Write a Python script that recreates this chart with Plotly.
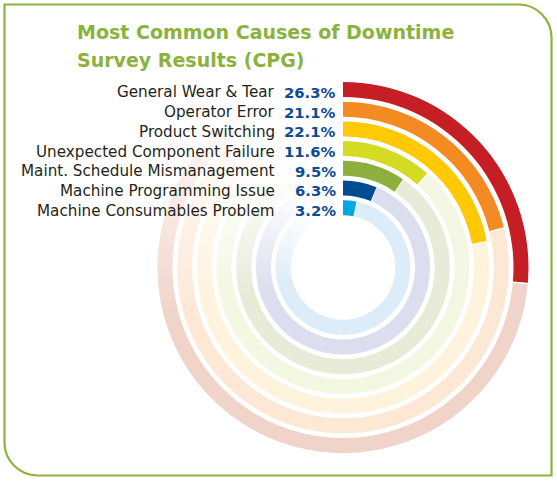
import plotly.graph_objects as go

# ---------------- data ----------------
categories = ["General Wear & Tear", "Operator Error", "Product Switching",
              "Unexpected Component Failure", "Maint. Schedule Mismanagement",
              "Machine Programming Issue", "Machine Consumables Problem"]
values = [26.3, 21.1, 22.1, 11.6, 9.5, 6.3, 3.2]
value_labels = ["26.3%", "21.1%", "22.1%", "11.6%", "9.5%", "6.3%", "3.2%"]

bar_colors = ["#C51E24", "#F48A22", "#FFCA05", "#D3DB23", "#8DAF3E", "#004C93", "#00A9E2"]
track_colors = ["#F1D4C9", "#FDE8D6", "#FEF3DC", "#F4F7E1", "#E7EBD8", "#DBDEEE", "#DCECF8"]

title_lines = ["Most Common Causes of Downtime", "Survey Results (CPG)"]

# ---------------- geometry ----------------
W, H = 557, 482
CX, CY = 343.0, 267.5
R_MAX = 186.0
R_OUT = 185.5
STEP = 19.7
THICK = 15.0


def hex_to_rgb(h):
    h = h.lstrip("#")
    return tuple(int(h[i:i + 2], 16) for i in (0, 2, 4))


def blend_white(h, f):
    r, g, b = hex_to_rgb(h)
    return "rgb(%d,%d,%d)" % (round(255 + f * (r - 255)), round(255 + f * (g - 255)), round(255 + f * (b - 255)))


def fade(theta):
    a0, a1 = 255.0, 340.0
    if theta <= a0:
        return 1.0
    if theta >= a1:
        return 0.0
    t = (theta - a0) / (a1 - a0)
    return (1 - t) ** 1.3


fig = go.Figure()

# background tracks (faded toward upper left)
tr_theta, tr_width, tr_base, tr_r, tr_col = [], [], [], [], []
seg = 2.0
for i, v in enumerate(values):
    outer = R_OUT - STEP * i
    inner = outer - THICK
    a = v * 3.6 + 0.7
    while a < 345:
        b = min(a + seg, 345)
        mid = (a + b) / 2
        tr_theta.append(mid)
        tr_width.append(b - a + 0.4)
        tr_base.append(inner)
        tr_r.append(THICK)
        tr_col.append(blend_white(track_colors[i], fade(mid)))
        a = b

fig.add_trace(go.Barpolar(
    theta=tr_theta, width=tr_width, base=tr_base, r=tr_r,
    marker=dict(color=tr_col, line=dict(width=0)),
    hoverinfo="skip", showlegend=False,
))

# value arcs
bar_theta = [v * 3.6 / 2 for v in values]
bar_width = [v * 3.6 for v in values]
bar_base = [R_OUT - STEP * i - THICK for i in range(len(values))]
bar_r = [THICK] * len(values)
fig.add_trace(go.Barpolar(
    theta=bar_theta, width=bar_width, base=bar_base, r=bar_r,
    marker=dict(color=bar_colors, line=dict(width=0)),
    text=categories, hovertemplate="%{text}<extra></extra>", showlegend=False,
))

ann = []


def px(x):
    return x / W


def py(y):
    return 1 - y / H


# labels
for i, (c, lab) in enumerate(zip(categories, value_labels)):
    ring_mid = R_OUT - STEP * i - THICK / 2
    y = CY - ring_mid + 3.0
    ann.append(dict(x=px(277), y=py(y), xref="paper", yref="paper", xanchor="right", yanchor="middle",
                    text=c, showarrow=False,
                    font=dict(family="DejaVu Sans", size=15.2, color="#231F20")))
    ann.append(dict(x=px(337.5), y=py(y), xref="paper", yref="paper", xanchor="right", yanchor="middle",
                    text="<b>%s</b>" % lab, showarrow=False,
                    font=dict(family="DejaVu Sans", size=14.8, color="#0E4B95")))

# title
for j, t in enumerate(title_lines):
    ann.append(dict(x=px(75), y=py(32.5 + 27.3 * j), xref="paper", yref="paper", xanchor="left", yanchor="middle",
                    text="<b>%s</b>" % t, showarrow=False,
                    font=dict(family="DejaVu Sans", size=19, color="#8CB23E")))

# border path (square top-left & bottom-right, rounded top-right & bottom-left)
L, T, Rr, B = 4.5, 4.5, 551.5, 475.5
rad = 33.0
k = 0.5523 * rad


def P(x, y):
    return "%.5f,%.5f" % (px(x), py(y))


path = ("M " + P(L, T) + " L " + P(Rr - rad, T) +
        " C " + P(Rr - rad + k, T) + " " + P(Rr, T + rad - k) + " " + P(Rr, T + rad) +
        " L " + P(Rr, B) + " L " + P(L + rad, B) +
        " C " + P(L + rad - k, B) + " " + P(L, B - rad + k) + " " + P(L, B - rad) + " Z")

fig.update_layout(
    width=W, height=H,
    margin=dict(l=0, r=0, t=0, b=0),
    paper_bgcolor="white", plot_bgcolor="white",
    showlegend=False,
    polar=dict(
        domain=dict(x=[(CX - R_MAX) / W, (CX + R_MAX) / W],
                    y=[1 - (CY + R_MAX) / H, 1 - (CY - R_MAX) / H]),
        bgcolor="rgba(0,0,0,0)",
        hole=0,
        radialaxis=dict(range=[0, R_MAX], visible=False, showgrid=False, showline=False, showticklabels=False, ticks=""),
        angularaxis=dict(rotation=90, direction="clockwise", showgrid=False, showline=False,
                         showticklabels=False, ticks=""),
    ),
    annotations=ann,
    shapes=[dict(type="path", xref="paper", yref="paper", path=path,
                 line=dict(color="#8DB33F", width=2.2), fillcolor="rgba(0,0,0,0)", layer="above")],
)

fig.write_html("out.html", config={"displayModeBar": False},
               post_script="document.body.style.margin='0';document.body.style.overflow='hidden';")
